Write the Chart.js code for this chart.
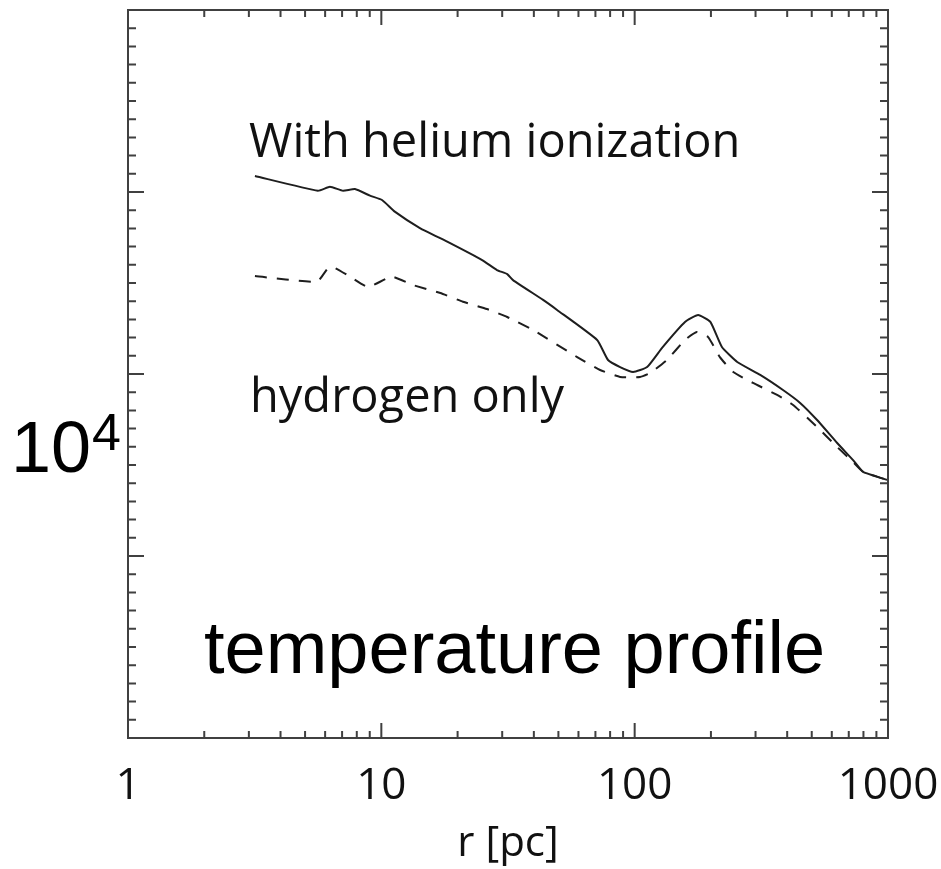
<!DOCTYPE html>
<html>
<head>
<meta charset="utf-8">
<script src="https://cdn.jsdelivr.net/npm/chart.js@4.4.1/dist/chart.umd.min.js"></script>
<style>
  html, body { margin: 0; padding: 0; background: #fff; }
  #wrap { width: 941px; height: 869px; position: relative; }
</style>
</head>
<body>
<div id="wrap"><canvas id="chart"></canvas></div>
<script>
'use strict';

// ── data (radius in pc, temperature in plot units: 0..4 along the frame) ──
const radiusHelium = [3.17, 5.62, 6.27, 7.06, 7.87, 9.02, 10.06, 11.3, 14.2, 18.2,
  25.0, 28.6, 31.4, 33.1, 43.5, 49.4, 71.1, 78.5, 87.6, 98.6,
  112, 129, 158, 178, 199, 221, 254, 313, 385, 450,
  525, 630, 728, 798, 992];
const tempHelium = [3.088, 3.007, 3.029, 3.007, 3.016, 2.980, 2.956, 2.892, 2.802, 2.727,
  2.626, 2.571, 2.549, 2.516, 2.407, 2.352, 2.187, 2.077, 2.038, 2.011,
  2.038, 2.148, 2.286, 2.324, 2.286, 2.148, 2.066, 1.995, 1.912, 1.841,
  1.747, 1.621, 1.527, 1.462, 1.418];

const radiusHydrogen = [3.17, 5.57, 6.16, 6.57, 7.52, 8.86, 11.0, 13.3, 17.1, 21.0,
  26.1, 31.4, 39.7, 59.3, 73.0, 87.6, 105, 115, 134, 158,
  176, 195, 217, 245, 293, 365, 422, 525, 630, 728,
  798, 992];
const tempHydrogen = [2.538, 2.507, 2.582, 2.582, 2.535, 2.478, 2.535, 2.489, 2.445, 2.397,
  2.357, 2.313, 2.242, 2.093, 2.022, 1.984, 1.984, 2.005, 2.077, 2.187,
  2.231, 2.203, 2.093, 2.011, 1.951, 1.885, 1.830, 1.709, 1.599, 1.516,
  1.462, 1.418];

const xTickLabels = [1, 10, 100, 1000];
const xRange = [1, 1000];
const yRange = [0, 4];
const yLabelAt = 1.5;   // where the "10^4" label sits

const INK   = '#1e1e1e';
const FRAME = '#404040';

const toPoints = (xs, ys) => xs.map((x, i) => ({ x, y: ys[i] }));

// box + inward ticks on all four sides, IDL style
const framePlugin = {
  id: 'frame',
  afterDatasetsDraw(chart) {
    const { ctx, chartArea: a, scales: { x, y } } = chart;
    ctx.save();
    ctx.strokeStyle = FRAME;
    ctx.lineWidth = 2;
    ctx.strokeRect(a.left, a.top, a.right - a.left, a.bottom - a.top);

    ctx.beginPath();
    for (let dec = 1; dec < 1000; dec *= 10) {
      for (let k = 1; k <= 9; k++) {
        const px = x.getPixelForValue(k * dec);
        const len = k === 1 ? 15 : 7;
        ctx.moveTo(px, a.bottom); ctx.lineTo(px, a.bottom - len);
        ctx.moveTo(px, a.top);    ctx.lineTo(px, a.top + len);
      }
    }
    for (let i = 0; i <= 40; i++) {
      const py = y.getPixelForValue(i / 10);
      const len = i % 10 === 0 ? 16 : 8;
      ctx.moveTo(a.left, py);  ctx.lineTo(a.left + len, py);
      ctx.moveTo(a.right, py); ctx.lineTo(a.right - len, py);
    }
    ctx.stroke();
    ctx.restore();
  },
  afterDraw(chart) {
    const { ctx, scales: { y } } = chart;
    ctx.save();
    ctx.fillStyle = '#000';
    ctx.textBaseline = 'alphabetic';
    ctx.textAlign = 'left';

    // y label 10^4
    const yb = y.getPixelForValue(yLabelAt) + 7;
    ctx.font = '72px "Liberation Sans", Arial, sans-serif';
    ctx.fillText('10', 11, yb);
    const w = ctx.measureText('10').width;
    ctx.font = '52px "Liberation Sans", Arial, sans-serif';
    ctx.fillText('4', 11 + w + 1, yb - 22);

    // annotations
    ctx.fillStyle = '#111';
    ctx.font = '47px "Open Sans", sans-serif';
    ctx.fillText('With helium ionization', 249, 157);
    ctx.fillText('hydrogen only', 250, 412);

    ctx.fillStyle = '#000';
    ctx.font = '74px "Liberation Sans", Arial, sans-serif';
    ctx.fillText('temperature profile', 204, 673);
    ctx.restore();
  }
};

new Chart(document.getElementById('chart'), {
  type: 'line',
  data: {
    datasets: [
      {
        label: 'With helium ionization',
        data: toPoints(radiusHelium, tempHelium),
        borderColor: INK,
        borderWidth: 2,
        pointRadius: 0,
        tension: 0.15,
        fill: false,
      },
      {
        label: 'hydrogen only',
        data: toPoints(radiusHydrogen, tempHydrogen),
        borderColor: INK,
        borderWidth: 2,
        borderDash: [12, 10],
        pointRadius: 0,
        tension: 0.15,
        fill: false,
      },
    ],
  },
  options: {
    responsive: true,
    maintainAspectRatio: false,
    animation: false,
    layout: { padding: { left: 128, right: 53, top: 10, bottom: 0 } },
    plugins: {
      legend: { display: false },
      tooltip: { enabled: false },
    },
    scales: {
      x: {
        type: 'logarithmic',
        min: xRange[0],
        max: xRange[1],
        grid: { display: false, drawTicks: false },
        border: { display: false },
        ticks: {
          autoSkip: false,
          maxRotation: 0,
          padding: 22,
          color: '#111',
          font: { family: '"Open Sans", sans-serif', size: 44 },
          callback: v => xTickLabels.includes(v) ? String(v) : '',
        },
        title: {
          display: true,
          text: 'r [pc]',
          color: '#111',
          font: { family: '"Open Sans", sans-serif', size: 42 },
          padding: { top: 0, bottom: 0 },
        },
        afterFit: s => {
          s.height = 131;
          s.paddingLeft = 0;
          s.paddingRight = 0;
        },
      },
      y: {
        display: false,
        min: yRange[0],
        max: yRange[1],
      },
    },
  },
  plugins: [framePlugin],
});
</script>
</body>
</html>
